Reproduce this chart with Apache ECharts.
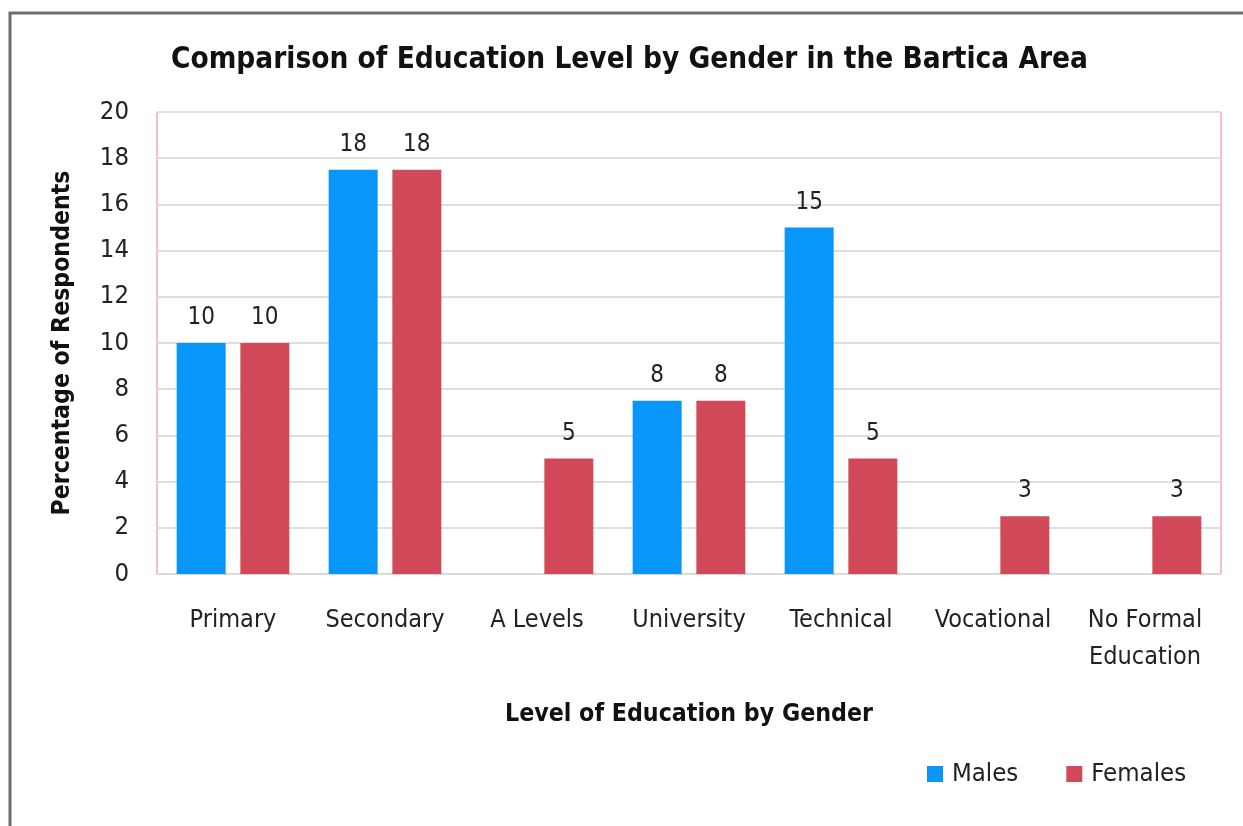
<!DOCTYPE html>
<html>
<head>
<meta charset="utf-8">
<script src="https://cdn.jsdelivr.net/npm/echarts@6/dist/echarts.min.js"></script>
<style>
html,body{margin:0;padding:0;background:#fff;}
#chart{width:1243px;height:826px;}
</style>
</head>
<body>
<div id="chart"></div>
<script>
const categories = ['Primary', 'Secondary', 'A Levels', 'University', 'Technical', 'Vocational', 'No Formal\nEducation'];
const males = [10, 17.5, 0, 7.5, 15, 0, 0];
const females = [10, 17.5, 5, 7.5, 5, 2.5, 2.5];
const yTicks = [0, 2, 4, 6, 8, 10, 12, 14, 16, 18, 20];

const FONT = '"Liberation Sans Narrow", "Arial Narrow", "DejaVu Sans Condensed", "Liberation Sans", sans-serif';
const chart = echarts.init(document.getElementById('chart'), null, {renderer: 'canvas'});

const labelOpt = {
  show: true,
  position: 'top',
  distance: 13,
  color: '#222',
  fontFamily: FONT,
  fontSize: 24,
  formatter: p => p.value ? String(Math.round(p.value)) : ''
};

chart.setOption({
  backgroundColor: '#fff',
  animation: false,
  graphic: [{
    type: 'polyline',
    shape: {points: [[10, 826], [10, 13], [1243, 13]]},
    style: {stroke: '#6d6d6d', lineWidth: 3, fill: null},
    silent: true
  }],
  title: {
    text: 'Comparison of Education Level by Gender in the Bartica Area',
    left: 166,
    top: 40,
    textStyle: {fontFamily: FONT, fontSize: 29.5, fontWeight: 'bold', color: '#111'}
  },
  legend: {
    data: ['Males', 'Females'],
    left: 922,
    top: 756,
    icon: 'rect',
    itemWidth: 16,
    itemHeight: 16,
    itemGap: 48,
    textStyle: {fontFamily: FONT, fontSize: 25.5, color: '#222', padding: [0, 0, 0, 4]}
  },
  grid: {
    left: 157, right: 22, top: 112, bottom: 252,
    show: true, borderColor: '#e3808f', borderWidth: 1,
    containLabel: false
  },
  xAxis: {
    type: 'category',
    data: categories,
    name: 'Level of Education by Gender',
    nameLocation: 'middle',
    nameGap: 128,
    nameTextStyle: {fontFamily: FONT, fontSize: 24.7, fontWeight: 'bold', color: '#111'},
    axisLine: {show: true, lineStyle: {color: '#d9d9d9', width: 2}},
    axisTick: {show: false},
    axisLabel: {fontFamily: FONT, fontSize: 25, color: '#222', margin: 28, lineHeight: 37, interval: 0}
  },
  yAxis: {
    type: 'value',
    min: 0, max: 20, interval: 2,
    name: 'Percentage of Respondents',
    nameLocation: 'middle',
    nameGap: 82,
    nameTextStyle: {fontFamily: FONT, fontSize: 24.6, fontWeight: 'bold', color: '#111'},
    axisLine: {show: false},
    axisTick: {show: false},
    splitLine: {show: true, lineStyle: {color: '#dedede', width: 2}},
    axisLabel: {fontFamily: FONT, fontSize: 25.5, color: '#222', margin: 28,
      formatter: v => yTicks.includes(v) ? String(v) : ''}
  },
  series: [
    {name: 'Males', type: 'bar', data: males, barWidth: 49, barGap: '30%',
      itemStyle: {color: '#0896fb'}, label: labelOpt},
    {name: 'Females', type: 'bar', data: females, barWidth: 49,
      itemStyle: {color: '#d24a5a'}, label: labelOpt}
  ]
});
</script>
</body>
</html>
